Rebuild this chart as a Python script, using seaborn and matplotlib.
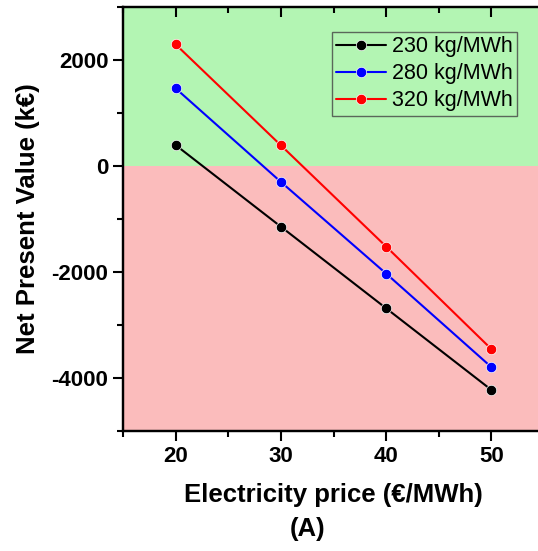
import pandas as pd
import matplotlib as mpl
mpl.use('Agg')
import matplotlib.pyplot as plt
from matplotlib.ticker import MultipleLocator, NullFormatter
import seaborn as sns

# Data
price = [20, 30, 40, 50]
npv_230 = [395, -1145, -2685, -4225]
npv_280 = [1465, -300, -2030, -3795]
npv_320 = [2295, 390, -1520, -3455]
series_names = ['230 kg/MWh', '280 kg/MWh', '320 kg/MWh']
series_colors = ['black', 'blue', 'red']

df = pd.concat([
    pd.DataFrame({'price': price, 'npv': v, 'series': name})
    for name, v in zip(series_names, [npv_230, npv_280, npv_320])
])

sns.set_style('ticks')
plt.rcParams['font.family'] = ['Liberation Sans', 'DejaVu Sans']
plt.rcParams['axes.unicode_minus'] = False
plt.rcParams['text.color'] = 'black'
plt.rcParams['axes.labelcolor'] = 'black'

fig = plt.figure(figsize=(5.38, 5.51), dpi=100)
ax = fig.add_axes([0.2286, 0.2178, 0.7826, 0.7695])

ax.axhspan(0, 3000, color='#b3f5b3', zorder=0, lw=0)
ax.axhspan(-5000, 0, color='#fbbcbc', zorder=0, lw=0)
ax.set_xlim(15, 55)
ax.set_ylim(-5000, 3000)

# mirrored top ticks pointing inward
top = ax.twiny()
top.set_xlim(ax.get_xlim())
top.xaxis.set_major_locator(MultipleLocator(10))
top.xaxis.set_minor_locator(MultipleLocator(5))
top.xaxis.set_major_formatter(NullFormatter())
top.tick_params(axis='x', which='major', direction='in', length=7, width=1.5,
                top=True, bottom=False, colors='black')
top.tick_params(axis='x', which='minor', direction='in', length=4, width=1.5,
                top=True, bottom=False, colors='black')
for s in top.spines.values():
    s.set_linewidth(1.6)
    s.set_color('black')

sns.lineplot(data=df, x='price', y='npv', hue='series', palette=series_colors,
             marker='o', markersize=7.5, markeredgewidth=0.5, linewidth=1.5,
             ax=ax, zorder=3)

ax.set_xlim(15, 55)
ax.set_ylim(-5000, 3000)
ax.xaxis.set_major_locator(MultipleLocator(10))
ax.xaxis.set_minor_locator(MultipleLocator(5))
ax.set_yticks([-4000, -2000, 0, 2000])
ax.yaxis.set_minor_locator(MultipleLocator(1000))
ax.tick_params(which='major', direction='out', length=7, width=1.5,
               labelsize=16, colors='black')
ax.tick_params(which='minor', direction='out', length=4, width=1.5,
               colors='black')
for lab in ax.get_xticklabels() + ax.get_yticklabels():
    lab.set_fontweight('bold')

for s in ax.spines.values():
    s.set_linewidth(1.6)
    s.set_color('black')

ax.set_xlabel('Electricity price (€/MWh)', fontsize=18.5, fontweight='bold',
              labelpad=12)
ax.set_ylabel('Net Present Value (k€)', fontsize=18.5, fontweight='bold',
              labelpad=8)

leg = ax.legend(loc='upper right', bbox_to_anchor=(0.936, 0.941), fontsize=15.5,
                frameon=True, fancybox=False, edgecolor='#444444',
                handlelength=2.3, handletextpad=0.3, borderpad=0.2,
                labelspacing=0.28, borderaxespad=0, labelcolor='black')
leg.get_frame().set_facecolor('none')
leg.get_frame().set_linewidth(1.0)

fig.text(0.571, 0.04, '(A)', fontsize=18.5, fontweight='bold', ha='center',
         va='center')

fig.savefig('out.png', dpi=100)
